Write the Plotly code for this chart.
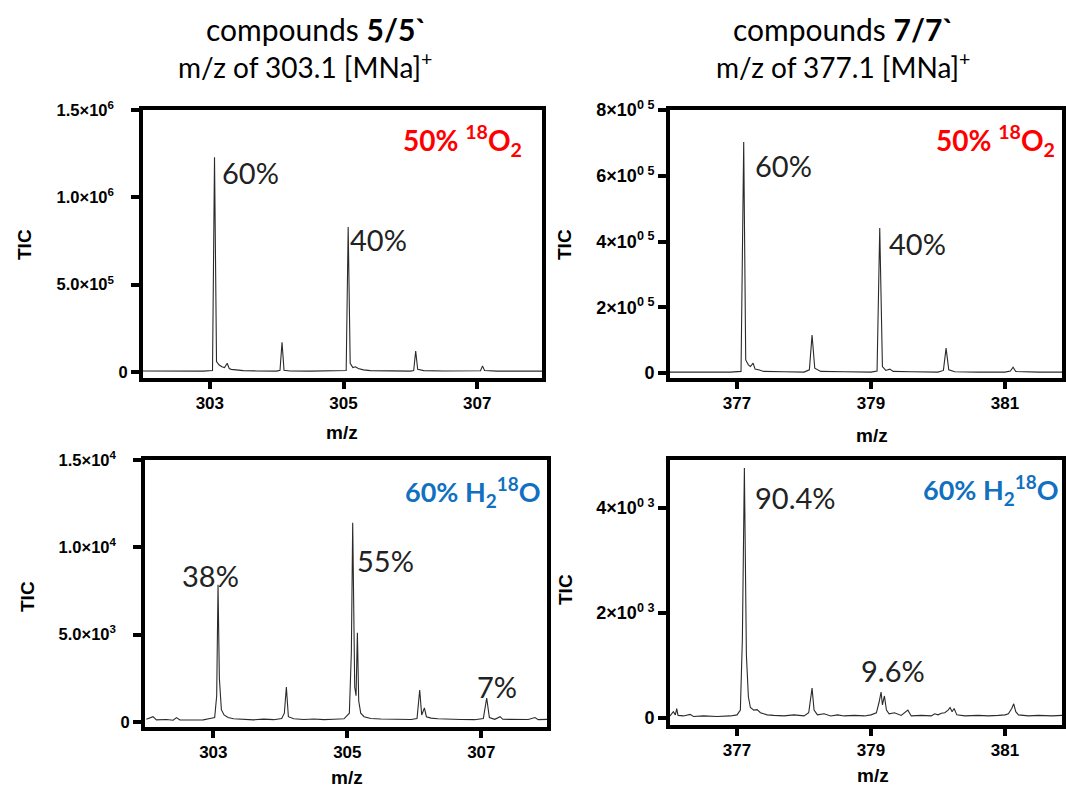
import plotly.graph_objects as go

# ---------------- data ----------------
mz_5_o2 = [302.0, 302.3, 302.6, 302.9, 303.04, 303.07, 303.10, 303.14, 303.18, 303.22, 303.26, 303.29, 303.32,
           303.4, 303.5, 303.7, 304.0, 304.05, 304.08, 304.11, 304.2, 304.5, 304.8, 305.04, 305.07, 305.10,
           305.14, 305.18, 305.22, 305.26, 305.3, 305.4, 305.6, 306.0, 306.05, 306.08, 306.11, 306.2, 306.5,
           306.9, 307.05, 307.08, 307.11, 307.3, 307.6, 308.0]
tic_5_o2 = [6e3, 5e3, 6e3, 5e3, 8e3, 1.23e6, 60e3, 40e3, 30e3, 25e3, 50e3, 20e3, 15e3,
            10e3, 8e3, 6e3, 5e3, 10e3, 0.17e6, 10e3, 6e3, 5e3, 5e3, 8e3, 0.83e6, 50e3,
            25e3, 30e3, 20e3, 15e3, 12e3, 8e3, 6e3, 5e3, 8e3, 0.12e6, 15e3, 8e3, 6e3,
            5e3, 7e3, 35e3, 8e3, 5e3, 5e3, 5e3]

mz_7_o2 = [376.0, 376.3, 376.6, 376.9, 377.06, 377.1, 377.13, 377.17, 377.2, 377.24, 377.27, 377.32, 377.4,
           377.7, 378.0, 378.08, 378.12, 378.16, 378.25, 378.6, 379.0, 379.09, 379.13, 379.17, 379.22,
           379.28, 379.33, 379.6, 380.0, 380.08, 380.12, 380.16, 380.25, 380.6, 381.0, 381.08, 381.12,
           381.16, 381.5, 382.0]
tic_7_o2 = [3e3, 4e3, 3e3, 3e3, 5e3, 7.03e5, 40e3, 25e3, 20e3, 30e3, 12e3, 10e3, 5e3,
            4e3, 3e3, 10e3, 1.16e5, 15e3, 5e3, 4e3, 3e3, 6e3, 4.41e5, 20e3, 8e3,
            12e3, 5e3, 4e3, 3e3, 8e3, 0.76e5, 10e3, 4e3, 3e3, 3e3, 6e3, 18e3,
            5e3, 3e3, 3e3]

mz_5_h2o = [302.0, 302.1, 302.15, 302.3, 302.4, 302.45, 302.5, 302.7, 302.85, 302.95, 303.02, 303.05, 303.07,
            303.09, 303.12, 303.16, 303.22, 303.3, 303.45, 303.6, 303.75, 303.9, 304.02, 304.06, 304.09,
            304.12, 304.2, 304.35, 304.5, 304.65, 304.8, 304.95, 305.03, 305.06, 305.08, 305.11, 305.13,
            305.15, 305.17, 305.2, 305.25, 305.35, 305.5, 305.65, 305.8, 305.95, 306.04, 306.08, 306.11,
            306.15, 306.18, 306.25, 306.35, 306.5, 306.7, 306.9, 307.03, 307.08, 307.12, 307.2, 307.28,
            307.32, 307.5, 307.7, 307.8, 307.85, 308.0]
tic_5_h2o = [150, 300, 120, 140, 100, 250, 110, 130, 120, 200, 250, 1500, 7850,
             2500, 700, 400, 250, 180, 150, 120, 160, 130, 200, 500, 2000,
             300, 180, 140, 170, 130, 150, 180, 500, 4000, 11400, 2000, 1500,
             5100, 1200, 500, 300, 200, 170, 150, 160, 140, 200, 1830, 400,
             800, 300, 220, 180, 150, 140, 130, 200, 1370, 250, 150, 300,
             150, 130, 140, 250, 130, 150]

mz_7_h2o = [376.0, 376.05, 376.08, 376.1, 376.12, 376.2, 376.3, 376.35, 376.5, 376.7, 376.9, 377.0, 377.05,
            377.08, 377.11, 377.14, 377.17, 377.2, 377.25, 377.3, 377.35, 377.45, 377.55, 377.7, 377.85,
            378.0, 378.07, 378.1, 378.12, 378.15, 378.2, 378.3, 378.4, 378.5, 378.6, 378.75, 378.9, 379.0,
            379.08, 379.12, 379.15, 379.17, 379.2, 379.23, 379.27, 379.35, 379.45, 379.55, 379.6, 379.75,
            379.9, 379.95, 380.0, 380.05, 380.1, 380.15, 380.18, 380.21, 380.24, 380.28, 380.4, 380.6,
            380.75, 380.9, 381.0, 381.05, 381.1, 381.13, 381.16, 381.2, 381.35, 381.5, 381.7, 381.85]
tic_7_h2o = [40, 120, 60, 180, 50, 40, 70, 30, 40, 30, 40, 60, 150,
             1500, 4760, 1200, 400, 200, 150, 160, 100, 60, 50, 40, 60,
             40, 100, 400, 570, 150, 60, 80, 40, 60, 40, 50, 40, 60,
             100, 300, 495, 250, 420, 150, 80, 100, 50, 150, 40, 50,
             40, 80, 60, 90, 100, 150, 200, 120, 180, 60, 40, 50,
             40, 50, 60, 80, 180, 270, 120, 60, 40, 50, 40, 50]

xticks_5 = [303, 305, 307]
xticks_7 = [377, 379, 381]

SP = "\u00a0\u00a0\u00a0"
yticks_5_o2 = [0, 5e5, 1.0e6, 1.5e6]
ylabels_5_o2 = ["0", "5.0×10<sup>5</sup>" + SP, "1.0×10<sup>6</sup>" + SP, "1.5×10<sup>6</sup>" + SP]
yticks_7_o2 = [0, 2e5, 4e5, 6e5, 8e5]
ylabels_7_o2 = ["0", "2×10<sup>0 5</sup>", "4×10<sup>0 5</sup>", "6×10<sup>0 5</sup>", "8×10<sup>0 5</sup>"]
yticks_5_h2o = [0, 5e3, 1.0e4, 1.5e4]
ylabels_5_h2o = ["0", "5.0×10<sup>3</sup>" + SP, "1.0×10<sup>4</sup>" + SP, "1.5×10<sup>4</sup>" + SP]
yticks_7_h2o = [0, 2e3, 4e3]
ylabels_7_h2o = ["0", "2×10<sup>0 3</sup>", "4×10<sup>0 3</sup>"]

# ---------------- figure ----------------
W, H = 1066, 789


def px_x(p):
    return p / W


def px_y(p):
    return 1 - p / H


fig = go.Figure()

panels = [
    (mz_5_o2, tic_5_o2, (143, 542), (110, 378), [302.0, 307.97], [-34500, 1.5e6], xticks_5, yticks_5_o2, ylabels_5_o2, 16.5),
    (mz_7_o2, tic_7_o2, (670, 1062), (110, 378), [376.0, 381.85], [-15000, 8e5], xticks_7, yticks_7_o2, ylabels_7_o2, 18),
    (mz_5_h2o, tic_5_h2o, (145, 547), (460, 727), [301.98, 307.98], [-290, 1.5e4], xticks_5, yticks_5_h2o, ylabels_5_h2o, 16.5),
    (mz_7_h2o, tic_7_h2o, (670, 1062), (460, 725), [376.0, 381.85], [-133, 4914], xticks_7, yticks_7_h2o, ylabels_7_h2o, 18),
]

layout_axes = {}
for i, (mz, tic, xd, yd, xr, yr, xt, yt, yl, yfs) in enumerate(panels):
    n = "" if i == 0 else str(i + 1)
    fig.add_trace(go.Scatter(x=mz, y=tic, mode="lines", xaxis="x" + n, yaxis="y" + n,
                             line=dict(color="#2a2a2a", width=1.1), showlegend=False,
                             hoverinfo="skip"))
    layout_axes["xaxis" + n] = dict(
        domain=[px_x(xd[0]), px_x(xd[1])], range=xr, anchor="y" + n,
        tickvals=xt, ticktext=[str(v) for v in xt], automargin=False,
        showline=True, linecolor="black", linewidth=4, mirror=True,
        ticks="outside", ticklen=7, tickwidth=4, tickcolor="black",
        showgrid=False, zeroline=False,
        tickfont=dict(family="Liberation Sans", size=17, color="black", weight="bold"),
    )
    layout_axes["yaxis" + n] = dict(
        domain=[px_y(yd[1]), px_y(yd[0])], range=yr, anchor="x" + n,
        tickvals=yt, ticktext=yl, automargin=False,
        showline=True, linecolor="black", linewidth=4, mirror=True,
        ticks="outside", ticklen=8, tickwidth=4, tickcolor="black",
        showgrid=False, zeroline=False,
        tickfont=dict(family="Liberation Sans", size=yfs, color="black", weight="bold"),
    )

fig.update_layout(**layout_axes)

ann = []
ann.append(dict(x=px_x(316), y=px_y(29), text="compounds <b>5/5`</b>", font=dict(family="Lato", size=30, color="black")))
ann.append(dict(x=px_x(305), y=px_y(65), text="m/z of 303.1 [MNa]<sup>+</sup>", font=dict(family="Lato", size=28, color="black")))
ann.append(dict(x=px_x(843), y=px_y(29), text="compounds <b>7/7`</b>", font=dict(family="Lato", size=30, color="black")))
ann.append(dict(x=px_x(843), y=px_y(65), text="m/z of 377.1 [MNa]<sup>+</sup>", font=dict(family="Lato", size=28, color="black")))

lab_font = dict(family="Liberation Sans", size=19, color="black", weight="bold")
for (x, y) in [(25, 245), (27, 597), (565, 245), (565, 590)]:
    ann.append(dict(x=px_x(x), y=px_y(y), text="TIC", textangle=-90, font=lab_font))
for (x, y) in [(342, 433), (872, 435), (347, 777), (873, 775)]:
    ann.append(dict(x=px_x(x), y=px_y(y), text="m/z", font=lab_font))

pct_font = dict(family="Lato", size=29, color="#222222")
for (x, y, t) in [(250, 172, "60%"), (378, 240, "40%"), (783, 166, "60%"), (917, 243, "40%"),
                  (210, 575, "38%"), (385, 560, "55%"), (497, 686, "7%"),
                  (795, 497, "90.4%"), (893, 670, "9.6%")]:
    ann.append(dict(x=px_x(x), y=px_y(y), text=t, font=pct_font))

red_font = dict(family="Lato", size=28, color="#ff0000")
for x in (462, 995):
    ann.append(dict(x=px_x(x), y=px_y(140), text="<b>50% <sup>18</sup>O<sub>2</sub></b>", font=red_font))
blue_font = dict(family="Lato", size=27, color="#1170c0")
for (x, y) in [(473, 492), (991, 490)]:
    ann.append(dict(x=px_x(x), y=px_y(y), text="<b>60% H<sub>2</sub><sup>18</sup>O</b>", font=blue_font))

for a in ann:
    a.update(xref="paper", yref="paper", showarrow=False, xanchor="center", yanchor="middle")

fig.update_layout(
    width=W, height=H, autosize=False, margin=dict(l=0, r=0, t=0, b=0, pad=0),
    paper_bgcolor="white", plot_bgcolor="white",
    annotations=ann,
)

fig.write_html("out.html", config={"displayModeBar": False},
               post_script="document.body.style.margin='0';document.body.style.overflow='hidden';")
